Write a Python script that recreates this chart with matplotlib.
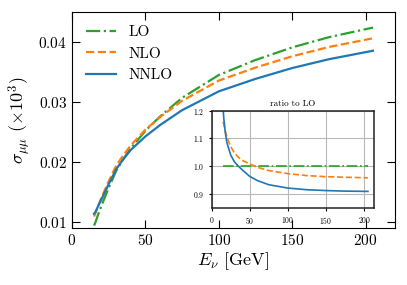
import matplotlib
matplotlib.use('Agg')
import matplotlib.pyplot as plt
import numpy as np

plt.rcParams['font.family'] = 'serif'
plt.rcParams['font.serif'] = ['cmr10']
plt.rcParams['mathtext.fontset'] = 'cm'
plt.rcParams['axes.formatter.use_mathtext'] = True

# neutrino energy (GeV)
energy = [15, 16, 18, 20, 25, 30, 35, 40, 50, 60, 75, 100, 125, 150, 175, 205]
# LO cross section
sigma_lo = [0.0094, 0.0100, 0.0114, 0.0127, 0.0157, 0.0185, 0.0205, 0.0223, 0.0252,
            0.0276, 0.0307, 0.0345, 0.0370, 0.0391, 0.0408, 0.0424]
# ratios to LO
ratio_nlo = [1.16, 1.15, 1.125, 1.105, 1.07, 1.047, 1.032, 1.021, 1.008,
             0.996, 0.984, 0.973, 0.966, 0.962, 0.960, 0.958]
ratio_nnlo = [1.21, 1.17, 1.12, 1.085, 1.04, 1.015, 1.0, 0.987, 0.963,
              0.948, 0.933, 0.921, 0.915, 0.912, 0.910, 0.909]

E = np.array(energy)
lo = np.array(sigma_lo)
nlo = lo * np.array(ratio_nlo)
nnlo = lo * np.array(ratio_nnlo)

c_lo, c_nlo, c_nnlo = '#2ca02c', '#ff7f0e', '#1f77b4'

fig = plt.figure(figsize=(4.07, 2.85), dpi=100)
ax = fig.add_axes([0.177, 0.2, 0.7936, 0.758])

ax.plot(E, lo, color=c_lo, ls='-.', lw=1.6, label='LO')
ax.plot(E, nlo, color=c_nlo, ls='--', lw=1.6, label='NLO')
ax.plot(E, nnlo, color=c_nnlo, ls='-', lw=1.6, label='NNLO')

ax.set_xlim(0, 220)
ax.set_ylim(0.009, 0.045)
ax.set_xticks([0, 50, 100, 150, 200])
ax.set_yticks([0.01, 0.02, 0.03, 0.04])
ax.tick_params(direction='in', top=True, right=True, length=6, labelsize=11)
ax.set_xlabel(r'$E_\nu$ [GeV]', fontsize=13, labelpad=2)
ax.set_ylabel(r'$\sigma_{\mu\mu}$ $(\times 10^3)$', fontsize=13, labelpad=4)
ax.legend(loc='upper left', frameon=False, fontsize=11)

ins = fig.add_axes([0.520, 0.271, 0.399, 0.3407])
ins.plot(E, np.ones_like(E, dtype=float), color=c_lo, ls='-.', lw=1.2)
ins.plot(E, ratio_nlo, color=c_nlo, ls='--', lw=1.2)
ins.plot(E, ratio_nnlo, color=c_nnlo, ls='-', lw=1.2)
ins.set_xlim(0, 213)
ins.set_ylim(0.85, 1.2)
ins.set_xticks([0, 50, 100, 150, 200])
ins.set_yticks([0.9, 1.0, 1.1, 1.2])
ins.grid(True, color='#b8b8b8', lw=0.8)
for s in ins.spines.values():
    s.set_linewidth(1.1)
    s.set_color('#222222')
ins.tick_params(labelsize=5.5, length=2.5, pad=3)
ins.set_title('ratio to LO', fontsize=6.5, pad=3)

fig.savefig('out.png', dpi=100)
